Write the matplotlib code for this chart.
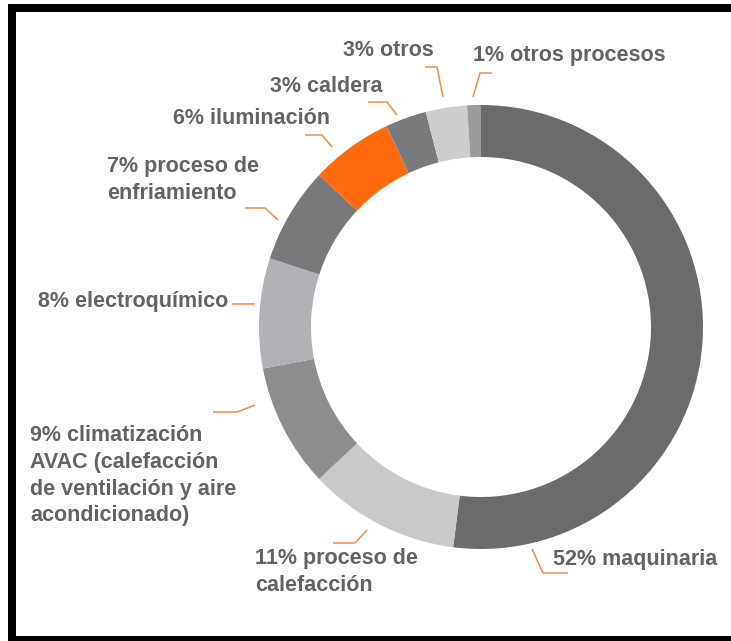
import matplotlib.pyplot as plt
from matplotlib.patches import Rectangle

# shares, clockwise from 12 o'clock
labels = ["52% maquinaria", "11% proceso de\ncalefacción",
          "9% climatización\nAVAC (calefacción\nde ventilación y aire\nacondicionado)",
          "8% electroquímico", "7% proceso de\nenfriamiento", "6% iluminación",
          "3% caldera", "3% otros", "1% otros procesos"]
values = [52, 11, 9, 8, 7, 6, 3, 3, 1]
colors = ["#6b6b6d", "#c9c9c9", "#8d8d8f", "#b1b1b5", "#79797b", "#ff6a0d",
          "#7a7a7c", "#cdcdcf", "#9b9b9d"]

# label text anchor (left x, first line centre y) in pixels from top-left
text_pos = [(553, 561), (255, 560), (30, 437), (38, 303), (107, 168),
            (173, 120), (270, 88), (343, 52), (473, 57)]
# leader polylines (pixels)
leaders = [
    [(532, 549), (543, 573), (568, 573)],
    [(333, 543), (355, 543), (367, 530)],
    [(213, 412), (237, 412), (255, 405)],
    [(232, 304), (255, 304)],
    [(245, 208), (265, 208), (278, 220)],
    [(305, 135), (322, 135), (332, 147)],
    [(368, 102), (387, 102), (397, 115)],
    [(425, 67), (437, 67), (443, 97)],
    [(492, 73), (480, 73), (473, 97)],
]

W, H = 731, 641
fig = plt.figure(figsize=(W / 100, H / 100), dpi=100)
ax = fig.add_axes([0, 0, 1, 1])

cx, cy, r = 481, 327, 222
ax.pie(values, colors=colors, startangle=90, counterclock=False,
       center=(cx, H - cy), radius=r, frame=True,
       wedgeprops=dict(width=52, linewidth=0))
ax.set_xlim(0, W)
ax.set_ylim(0, H)
ax.set_aspect("equal")
ax.axis("off")

for lab, (tx, ty) in zip(labels, text_pos):
    ax.text(tx, H - ty + 12, lab, ha="left", va="top", fontsize=15.5,
            family="Liberation Sans", fontweight="bold", color="#636366",
            linespacing=1.36)

for pts in leaders:
    xs = [p[0] for p in pts]
    ys = [H - p[1] for p in pts]
    ax.plot(xs, ys, color="#ee8a4f", lw=1.1, solid_capstyle="butt")

# black frame (left, top, bottom)
for x0, y0, w, h in [(8, 0, 8, 637), (8, 629, W - 8, 8), (8, 0, W - 8, 5)]:
    ax.add_patch(Rectangle((x0, y0), w, h, color="black", lw=0))

fig.savefig("out.png", dpi=100)
